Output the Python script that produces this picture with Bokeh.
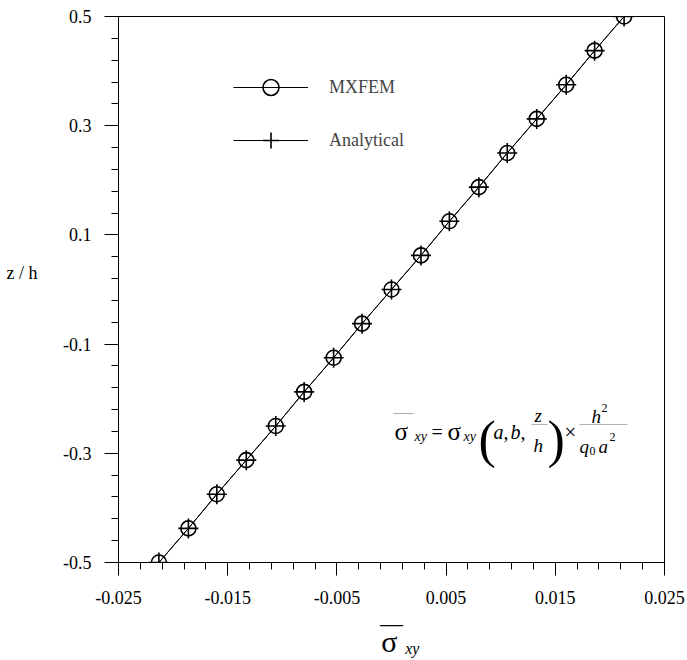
import numpy as np
from bokeh.core.properties import value
from bokeh.embed import file_html
from bokeh.models import (CustomJSTickFormatter, FixedTicker, Label, Legend,
                          LegendItem, LinearAxis, PolyAnnotation, Range1d)
from bokeh.plotting import figure
from bokeh.resources import INLINE

# Through-thickness shear stress profile (normalised)
z_over_h = [-0.5, -0.4375, -0.375, -0.3125, -0.25, -0.1875, -0.125, -0.0625, 0.0,
            0.0625, 0.125, 0.1875, 0.25, 0.3125, 0.375, 0.4375, 0.5]
sigma_mxfem = [-0.0213, -0.0186, -0.0160, -0.0133, -0.0106, -0.0080, -0.0053, -0.0027, 0.0,
               0.0027, 0.0053, 0.0080, 0.0106, 0.0133, 0.0160, 0.0186, 0.0213]
sigma_analytical = [-0.0213, -0.0186, -0.0160, -0.0133, -0.0106, -0.0080, -0.0053, -0.0027, 0.0,
                    0.0027, 0.0053, 0.0080, 0.0106, 0.0133, 0.0160, 0.0186, 0.0213]
series_names = ["MXFEM", "Analytical"]

x_major_ticks = [-0.025, -0.015, -0.005, 0.005, 0.015, 0.025]
y_major_ticks = [-0.5, -0.3, -0.1, 0.1, 0.3, 0.5]
x_minor_ticks = [t for t in np.round(np.arange(-0.025, 0.0251, 0.002), 4) if t not in x_major_ticks]
y_minor_ticks = [t for t in np.round(np.arange(-0.5, 0.501, 0.04), 3) if t not in y_major_ticks]

SERIF = "Liberation Serif"
W, H = 687, 660
LEFT, RIGHT, TOP, BOTTOM = 118, 664, 16, 562

p = figure(width=W, height=H, output_backend="svg", toolbar_location=None,
           x_range=Range1d(-0.025, 0.025), y_range=Range1d(-0.5, 0.5),
           min_border_left=LEFT, min_border_right=W - RIGHT,
           min_border_top=TOP, min_border_bottom=H - BOTTOM)
p.grid.visible = False
p.outline_line_color = "black"
p.outline_line_width = 1
p.background_fill_color = "white"
p.border_fill_color = "white"

xax, yax = p.xaxis[0], p.yaxis[0]
for ax in (xax, yax):
    ax.axis_line_color = "black"
    ax.axis_line_width = 1
    ax.major_tick_line_color = "black"
    ax.minor_tick_line_color = "black"
    ax.major_tick_in = 0
    ax.minor_tick_in = 0
    ax.minor_tick_out = 7
    ax.major_label_text_font = SERIF
    ax.major_label_text_font_size = "18px"
    ax.major_label_text_color = "black"

xax.ticker = FixedTicker(ticks=x_major_ticks, minor_ticks=x_minor_ticks)
yax.ticker = FixedTicker(ticks=y_major_ticks, minor_ticks=y_minor_ticks)
xax.formatter = CustomJSTickFormatter(code="return tick.toFixed(3)")
yax.formatter = CustomJSTickFormatter(code="return tick.toFixed(1)")
xax.major_tick_out = 13
yax.major_tick_out = 14
xax.major_label_standoff = 15
yax.major_label_standoff = 13

# x title: the overbar is the main axis label (an em dash), the sigma and
# its italic "xy" subscript ride on bare axes stacked below it
xax.axis_label = "\u2014"
xax.axis_label_text_font = SERIF
xax.axis_label_text_font_size = "23px"
xax.axis_label_text_font_style = "normal"
xax.axis_label_text_color = "black"
xax.axis_label_standoff = 4


def caption_axis(pos, text, size, standoff, italic=False):
    """Axis without line or ticks that only carries one text at `pos`."""
    return LinearAxis(ticker=FixedTicker(ticks=[pos], minor_ticks=[]),
                      formatter=CustomJSTickFormatter(code=f"return {text!r}"),
                      axis_line_color=None, major_tick_line_color=None,
                      minor_tick_line_color=None, major_tick_in=0, major_tick_out=0,
                      minor_tick_in=0, minor_tick_out=0,
                      major_label_standoff=standoff, major_label_text_font=SERIF,
                      major_label_text_font_size=f"{size}px",
                      major_label_text_font_style="italic" if italic else "normal",
                      major_label_text_color="black")


p.add_layout(caption_axis(-0.0002, "σ", 30, -14), "below")
p.add_layout(caption_axis(0.0019, "xy", 16, -21, italic=True), "below")
p.add_layout(caption_axis(0.03, "z / h", 18, 23), "left")

# profile lines and markers
l_mx = p.line(sigma_mxfem, z_over_h, line_color="black", line_width=1)
l_an = p.line(sigma_analytical, z_over_h, line_color="black", line_width=1)
m_an = p.scatter(sigma_analytical, z_over_h, marker="cross", size=20,
                 line_color="black", line_width=1.6)
m_mx = p.scatter(sigma_mxfem, z_over_h, marker="circle", size=15,
                 fill_color=None, line_color="black", line_width=1.6)

legend = Legend(items=[LegendItem(label=value(series_names[0]), renderers=[l_mx, m_mx]),
                       LegendItem(label=value(series_names[1]), renderers=[l_an, m_an])],
                location=(115, 402), glyph_width=75, glyph_height=40, label_height=40,
                spacing=13, padding=0, margin=0, label_standoff=21,
                border_line_color=None, background_fill_alpha=0,
                label_text_font=SERIF, label_text_font_size="18px")
p.add_layout(legend)


def put(text, X, Y, size, italic=False, baseline="alphabetic", align="left"):
    """Place text at page pixel (X, Y) inside the plotting area."""
    p.add_layout(Label(x=X - LEFT, y=BOTTOM - Y, x_units="screen", y_units="screen",
                       text=text, text_font=SERIF, text_font_size=f"{size}px",
                       text_font_style="italic" if italic else "normal",
                       text_baseline=baseline, text_align=align, text_color="black"))


def rule(X0, X1, Y, width=1.2):
    """Short horizontal stroke (overbar / fraction bar) at page pixels."""
    p.add_layout(PolyAnnotation(xs=[X0 - LEFT, X1 - LEFT], ys=[BOTTOM - Y, BOTTOM - Y],
                                xs_units="screen", ys_units="screen",
                                line_color="black", line_width=width, fill_alpha=0))


# normalisation formula
dx, by = 34, 431
put("σ", 360 + dx, by, 25)
rule(359 + dx, 379 + dx, by - 18)
put("xy", 380 + dx, by + 5, 14, italic=True)
put("=", 397 + dx, by, 20)
put("σ", 413 + dx, by, 25)
put("xy", 429 + dx, by + 5, 14, italic=True)
put("(", 444 + dx, by + 8, 52)
put("a", 459 + dx, by, 20, italic=True)
put(",", 469 + dx, by, 20)
put("b", 476 + dx, by, 20, italic=True)
put(",", 486 + dx, by, 20)
put("z", 500 + dx, by - 16, 19, italic=True)
rule(497 + dx, 513 + dx, by - 7, 1)
put("h", 499 + dx, by + 14, 19, italic=True)
put(")", 513 + dx, by + 8, 52)
put("×", 530 + dx, by, 21)
put("h", 557 + dx, by - 15, 19, italic=True)
put("2", 567 + dx, by - 24, 12)
rule(545 + dx, 593 + dx, by - 7, 1)
put("q", 545 + dx, by + 15, 19, italic=True)
put("0", 555 + dx, by + 19, 12)
put("a", 564 + dx, by + 15, 19, italic=True)
put("2", 575 + dx, by + 5, 12)

open("out.html", "w").write(file_html(p, INLINE))
